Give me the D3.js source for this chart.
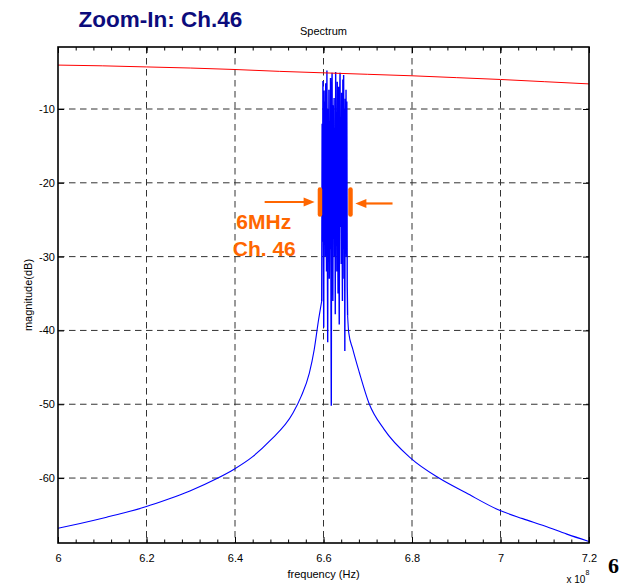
<!DOCTYPE html>
<html>
<head>
<meta charset="utf-8">
<script src="https://cdn.jsdelivr.net/npm/d3@7"></script>
<style>
  body { margin: 0; background: #fff; }
  svg { display: block; font-family: Arial, "Liberation Sans", sans-serif; }
</style>
</head>
<body>
<svg id="chart" width="631" height="583"></svg>
<script>
// frequency is in units of 1e8 Hz (axis reads "x 10^8"), magnitude in dB
var xTicks = [6, 6.2, 6.4, 6.6, 6.8, 7, 7.2];
var xTickLabels = ["6", "6.2", "6.4", "6.6", "6.8", "7", "7.2"];
var yTicks = [-60, -50, -40, -30, -20, -10];
var yTickLabels = ["-60", "-50", "-40", "-30", "-20", "-10"];

// red reference line
var refFreq = [6.0, 6.1, 6.2, 6.3, 6.4, 6.5, 6.6, 6.7, 6.8, 6.9, 7.0, 7.1, 7.2];
var refMag  = [-4.05, -4.15, -4.3, -4.45, -4.65, -4.9, -5.1, -5.3, -5.5, -5.75, -6.0, -6.3, -6.6];

// blue spectrum: lower skirt
var leftFreq = [6.000, 6.050, 6.110, 6.150, 6.198, 6.250, 6.298, 6.358, 6.398, 6.440,
                6.478, 6.531, 6.549, 6.568, 6.579, 6.589];
var leftMag  = [-66.8, -66.15, -65.3, -64.7, -63.9, -62.85, -61.75, -60.1, -58.8, -57.1,
                -55.0, -51.2, -49.0, -45.8, -42.6, -38.5];

// blue spectrum: the 6 MHz channel itself
var burstFreq = [6.5960, 6.5969, 6.5978, 6.5987, 6.5996, 6.6005, 6.6014, 6.6023, 6.6032, 6.6041,
                 6.6050, 6.6059, 6.6068, 6.6077, 6.6086, 6.6095, 6.6104, 6.6113, 6.6122, 6.6131,
                 6.6140, 6.6149, 6.6158, 6.6167, 6.6176, 6.6185, 6.6194, 6.6203, 6.6212, 6.6221,
                 6.6230, 6.6239, 6.6248, 6.6257, 6.6266, 6.6275, 6.6284, 6.6293, 6.6302, 6.6311,
                 6.6320, 6.6329, 6.6338, 6.6347, 6.6356, 6.6365, 6.6374, 6.6383, 6.6392, 6.6401,
                 6.6410, 6.6419, 6.6428, 6.6437, 6.6446, 6.6455, 6.6464, 6.6473, 6.6482, 6.6491,
                 6.6500, 6.6509, 6.6518, 6.6527, 6.6536, 6.6545];
var burstMag  = [-36, -12, -28, -6.2, -24, -39.6, -7.5, -26, -9.0, -30,
                 -6.5, -22, -32, -4.8, -27, -41.6, -10, -25, -7.4, -33,
                 -12, -29, -5.8, -31, -50.2, -8, -5.1, -23, -36, -9.5,
                 -27, -8.5, -30, -14, -37.8, -5.0, -26, -11, -32, -6.3,
                 -24, -35, -7, -28, -39.2, -9, -5.1, -26, -12, -31,
                 -7.8, -25, -36, -6, -29, -5.4, -33, -10, -42.8, -8.6,
                 -27, -7.4, -30, -9, -34, -38];

// blue spectrum: upper skirt
var rightFreq = [6.657, 6.666, 6.681, 6.703, 6.737, 6.797, 6.861, 6.922, 6.995, 7.050, 7.100, 7.150, 7.200];
var rightMag  = [-40.3, -42.5, -45.7, -49.9, -53.4, -57.3, -60.0, -62.0, -64.3, -65.5, -66.5, -67.6, -68.6];

var svg = d3.select("#chart");
var margin = {top: 47, right: 42, bottom: 40, left: 58},
    width = 631 - margin.left - margin.right,
    height = 583 - margin.top - margin.bottom;

var x = d3.scaleLinear().domain([6, 7.2]).range([0, width]);
var y = d3.scaleLinear().domain([-68.8, -1.6]).range([height, 0]);

var g = svg.append("g").attr("transform", "translate(" + margin.left + "," + margin.top + ")");

// dashed grid
var grid = g.append("g").attr("class", "grid");
grid.selectAll("line.gx").data(xTicks.slice(1, -1)).enter().append("line")
    .attr("x1", function(d) { return x(d); }).attr("x2", function(d) { return x(d); })
    .attr("y1", 0).attr("y2", height);
grid.selectAll("line.gy").data(yTicks).enter().append("line")
    .attr("x1", 0).attr("x2", width)
    .attr("y1", function(d) { return y(d); }).attr("y2", function(d) { return y(d); });
grid.selectAll("line")
    .attr("stroke", "#333").attr("stroke-width", 1).attr("stroke-dasharray", "6.5,4.5");

var line = d3.line()
    .x(function(d) { return x(d[0]); })
    .y(function(d) { return y(d[1]); });
var smooth = d3.line()
    .curve(d3.curveMonotoneX)
    .x(function(d) { return x(d[0]); })
    .y(function(d) { return y(d[1]); });

svg.append("defs").append("clipPath").attr("id", "plotclip")
  .append("rect").attr("width", width).attr("height", height);

var plot = g.append("g").attr("clip-path", "url(#plotclip)");

var burst = d3.zip(burstFreq, burstMag);
var left = d3.zip(leftFreq, leftMag).concat([burst[0]]);
var right = [burst[burst.length - 1]].concat(d3.zip(rightFreq, rightMag));

// skirts are smooth, the channel is drawn point to point
[left, right].forEach(function(s) {
  plot.append("path").datum(s)
      .attr("d", smooth).attr("fill", "none")
      .attr("stroke", "#0000ff").attr("stroke-width", 1.1);
});
plot.append("path").datum(burst)
    .attr("d", line).attr("fill", "none")
    .attr("stroke", "#0000ff").attr("stroke-width", 1.4).attr("stroke-linejoin", "bevel");

plot.append("path").datum(d3.zip(refFreq, refMag))
    .attr("d", line).attr("fill", "none")
    .attr("stroke", "#ff0000").attr("stroke-width", 1);

// axes with inward ticks, mirrored on top / right
var xMinor = d3.range(6, 7.2001, 0.04);

function styleAxis(sel) {
  sel.select(".domain").remove();
  sel.selectAll(".tick line").attr("stroke", "#000").attr("stroke-width", 1);
  sel.selectAll("text").attr("font-family", "Arial, 'Liberation Sans', sans-serif")
     .attr("font-size", 11).attr("fill", "#000");
}

g.append("g").attr("transform", "translate(0," + height + ")")
  .call(d3.axisBottom(x).tickValues(xMinor).tickSize(-3.5).tickFormat(""))
  .call(styleAxis);
g.append("g")
  .call(d3.axisTop(x).tickValues(xMinor).tickSize(-3.5).tickFormat(""))
  .call(styleAxis);
g.append("g").attr("transform", "translate(0," + height + ")")
  .call(d3.axisBottom(x).tickValues(xTicks).tickSize(-6).tickPadding(11)
        .tickFormat(function(d, i) { return xTickLabels[i]; }))
  .call(styleAxis);
g.append("g")
  .call(d3.axisTop(x).tickValues(xTicks).tickSize(-6).tickFormat(""))
  .call(styleAxis);
g.append("g")
  .call(d3.axisLeft(y).tickValues(yTicks).tickSize(-6).tickPadding(3)
        .tickFormat(function(d, i) { return yTickLabels[i]; }))
  .call(styleAxis);
g.append("g").attr("transform", "translate(" + width + ",0)")
  .call(d3.axisRight(y).tickValues(yTicks).tickSize(-6).tickFormat(""))
  .call(styleAxis);

// box
g.append("rect").attr("width", width).attr("height", height)
    .attr("fill", "none").attr("stroke", "#000").attr("stroke-width", 1.6);

// annotation: channel bandwidth markers
var orange = "#ff6600";
var ann = g.append("g");
[6.592, 6.661].forEach(function(f) {
  ann.append("line")
      .attr("x1", x(f)).attr("x2", x(f))
      .attr("y1", y(-20.9)).attr("y2", y(-24.3))
      .attr("stroke", orange).attr("stroke-width", 4.5).attr("stroke-linecap", "round");
});
function arrow(f0, f1, db) {
  var x0 = x(f0), x1 = x(f1), yy = y(db), dir = x1 > x0 ? 1 : -1;
  ann.append("line").attr("x1", x0).attr("x2", x1 - dir * 8).attr("y1", yy).attr("y2", yy)
      .attr("stroke", orange).attr("stroke-width", 2.2);
  ann.append("path")
      .attr("d", "M" + x1 + "," + yy + "L" + (x1 - dir * 11) + "," + (yy - 4.5) +
                 "L" + (x1 - dir * 11) + "," + (yy + 4.5) + "Z")
      .attr("fill", orange);
}
arrow(6.467, 6.580, -22.6);
arrow(6.756, 6.672, -22.8);
ann.append("text").attr("x", x(6.403)).attr("y", y(-26.3))
    .attr("font-size", 21).attr("font-weight", "bold").attr("fill", orange).text("6MHz");
ann.append("text").attr("x", x(6.395)).attr("y", y(-29.9))
    .attr("font-size", 21).attr("font-weight", "bold").attr("fill", orange).text("Ch. 46");

// titles and labels
svg.append("text").attr("x", 78.5).attr("y", 26.7)
    .attr("font-size", 22.5).attr("font-weight", "bold").attr("fill", "#0c0c7c")
    .text("Zoom-In: Ch.46");
svg.append("text").attr("x", margin.left + width / 2).attr("y", 35)
    .attr("text-anchor", "middle").attr("font-size", 11).text("Spectrum");
svg.append("text").attr("x", margin.left + width / 2).attr("y", 578)
    .attr("text-anchor", "middle").attr("font-size", 11).text("frequency (Hz)");
svg.append("text").attr("transform", "translate(32,295) rotate(-90)")
    .attr("text-anchor", "middle").attr("font-size", 11).text("magnitude(dB)");
var ex = svg.append("text").attr("x", 566.5).attr("y", 582.5).attr("font-size", 10);
ex.append("tspan").text("x 10");
ex.append("tspan").attr("dy", -8).attr("font-size", 7).text("8");
svg.append("text").attr("x", 608).attr("y", 573)
    .attr("font-family", "'Liberation Serif', 'Times New Roman', serif")
    .attr("font-size", 22).attr("font-weight", "bold").text("6");
</script>
</body>
</html>
